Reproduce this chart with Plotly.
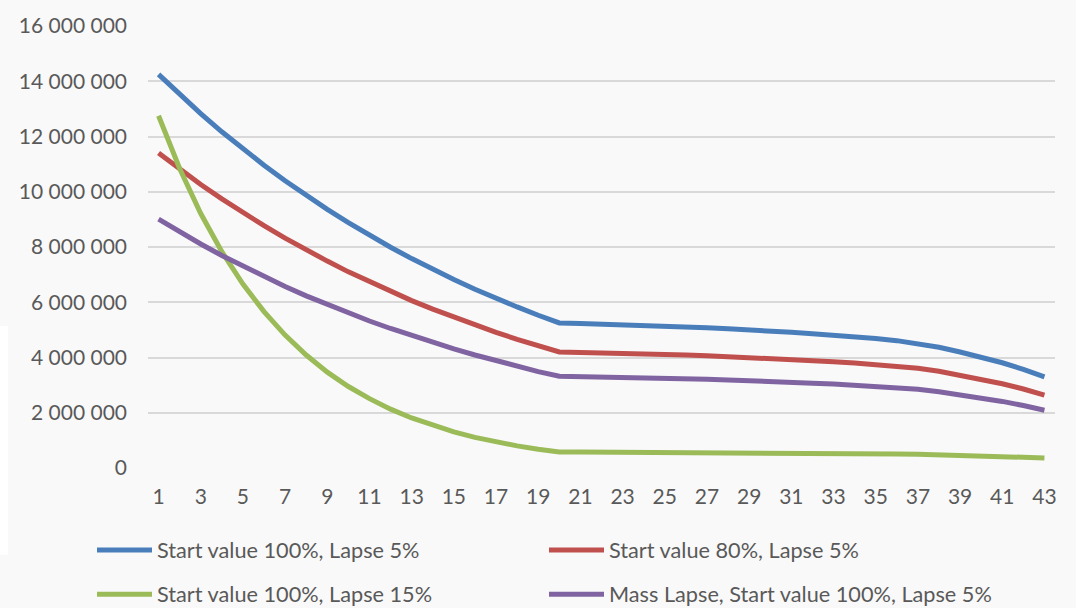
import plotly.graph_objects as go

# Policy years 1..43
years = list(range(1, 44))

# Portfolio value per year (units)
start100_lapse5 = [
    14.25e6, 13.52e6, 12.83e6, 12.17e6, 11.55e6, 10.96e6, 10.40e6, 9.86e6, 9.36e6, 8.88e6,
    8.42e6, 7.99e6, 7.58e6, 7.19e6, 6.82e6, 6.47e6, 6.14e6, 5.83e6, 5.53e6, 5.25e6,
    5.23e6, 5.21e6, 5.19e6, 5.17e6, 5.14e6, 5.11e6, 5.08e6, 5.04e6, 5.01e6, 4.96e6,
    4.91e6, 4.86e6, 4.81e6, 4.75e6, 4.69e6, 4.61e6, 4.51e6, 4.37e6, 4.20e6, 4.02e6,
    3.81e6, 3.57e6, 3.30e6,
]
start80_lapse5 = [
    11.40e6, 10.82e6, 10.26e6, 9.74e6, 9.24e6, 8.77e6, 8.32e6, 7.89e6, 7.49e6, 7.10e6,
    6.74e6, 6.39e6, 6.06e6, 5.75e6, 5.46e6, 5.18e6, 4.91e6, 4.66e6, 4.42e6, 4.20e6,
    4.18e6, 4.17e6, 4.15e6, 4.14e6, 4.11e6, 4.09e6, 4.06e6, 4.03e6, 4.01e6, 3.97e6,
    3.93e6, 3.89e6, 3.85e6, 3.80e6, 3.75e6, 3.69e6, 3.61e6, 3.50e6, 3.36e6, 3.22e6,
    3.05e6, 2.86e6, 2.64e6,
]
start100_lapse15 = [
    12.75e6, 10.84e6, 9.21e6, 7.83e6, 6.66e6, 5.66e6, 4.81e6, 4.09e6, 3.47e6, 2.95e6,
    2.51e6, 2.13e6, 1.81e6, 1.54e6, 1.31e6, 1.11e6, 0.95e6, 0.80e6, 0.68e6, 0.58e6,
    0.578e6, 0.576e6, 0.574e6, 0.571e6, 0.568e6, 0.565e6, 0.561e6, 0.557e6, 0.554e6, 0.548e6,
    0.543e6, 0.537e6, 0.532e6, 0.525e6, 0.518e6, 0.509e6, 0.498e6, 0.483e6, 0.464e6, 0.444e6,
    0.421e6, 0.394e6, 0.365e6,
]
mass_lapse = [
    9.01e6, 8.54e6, 8.11e6, 7.69e6, 7.30e6, 6.93e6, 6.57e6, 6.23e6, 5.92e6, 5.61e6,
    5.32e6, 5.05e6, 4.79e6, 4.54e6, 4.31e6, 4.09e6, 3.88e6, 3.68e6, 3.49e6, 3.32e6,
    3.31e6, 3.29e6, 3.28e6, 3.27e6, 3.25e6, 3.23e6, 3.21e6, 3.19e6, 3.17e6, 3.13e6,
    3.10e6, 3.07e6, 3.04e6, 3.00e6, 2.96e6, 2.91e6, 2.85e6, 2.76e6, 2.65e6, 2.54e6,
    2.41e6, 2.26e6, 2.09e6,
]

series_names = [
    "Start value 100%, Lapse 5%",
    "Start value 80%, Lapse 5%",
    "Start value 100%, Lapse 15%",
    "Mass Lapse, Start value 100%, Lapse 5%",
]
series_values = [start100_lapse5, start80_lapse5, start100_lapse15, mass_lapse]
colors = ["#4a7ebb", "#c0504d", "#9bbb59", "#8064a2"]

x_ticks = list(range(1, 44, 2))
y_ticks = list(range(0, 16_000_001, 2_000_000))

FONT = "Lato"
TEXT = "#595959"

W, H = 1076, 608
ML, MR, MT, MB = 148, 21, 20, 140
PW, PH = W - ML - MR, H - MT - MB


def px_x(p):
    return (p - ML) / PW


def px_y(p):
    return (H - MB - p) / PH


fig = go.Figure()
for name, vals, col in zip(series_names, series_values, colors):
    fig.add_trace(go.Scatter(
        x=years, y=vals, name=name, mode="lines",
        line=dict(color=col, width=5),
        showlegend=False,
    ))

# Two-column legend under the plot
legend_pos = [(97, 551), (549, 551), (97, 596), (549, 596)]
shapes = [
    dict(type="rect", xref="paper", yref="paper",
         x0=px_x(0), x1=px_x(8), y0=px_y(324), y1=px_y(556),
         fillcolor="#ffffff", line=dict(width=0), layer="below"),
]
annotations = []
for (lx, ly), name, col in zip(legend_pos, series_names, colors):
    shapes.append(dict(
        type="line", xref="paper", yref="paper",
        x0=px_x(lx), x1=px_x(lx + 55), y0=px_y(ly), y1=px_y(ly),
        line=dict(color=col, width=5),
    ))
    annotations.append(dict(
        xref="paper", yref="paper", x=px_x(lx + 58), y=px_y(ly),
        xanchor="left", yanchor="middle", text=name, showarrow=False,
        font=dict(family=FONT, size=21.7, color=TEXT),
    ))

fig.update_layout(
    width=W, height=H,
    margin=dict(l=ML, r=MR, t=MT, b=MB),
    paper_bgcolor="#f9f9f9",
    plot_bgcolor="#f9f9f9",
    separators=". ",
    font=dict(family=FONT, size=21, color=TEXT),
    shapes=shapes,
    annotations=annotations,
    xaxis=dict(
        range=[0.5, 43.5],
        tickmode="array", tickvals=x_ticks, ticktext=[str(v) for v in x_ticks],
        showgrid=False, zeroline=False, showline=False,
        ticks="", ticklabelstandoff=14,
        tickfont=dict(family=FONT, size=21, color=TEXT),
    ),
    yaxis=dict(
        range=[0, 16_000_000],
        tickmode="array", tickvals=y_ticks,
        tickformat=",d",
        showgrid=True, gridcolor="#d9d9d9", gridwidth=1.5,
        zeroline=False, showline=False,
        ticks="", ticklabelstandoff=20,
        tickfont=dict(family=FONT, size=21, color=TEXT),
    ),
)

fig.write_html("out.html")
